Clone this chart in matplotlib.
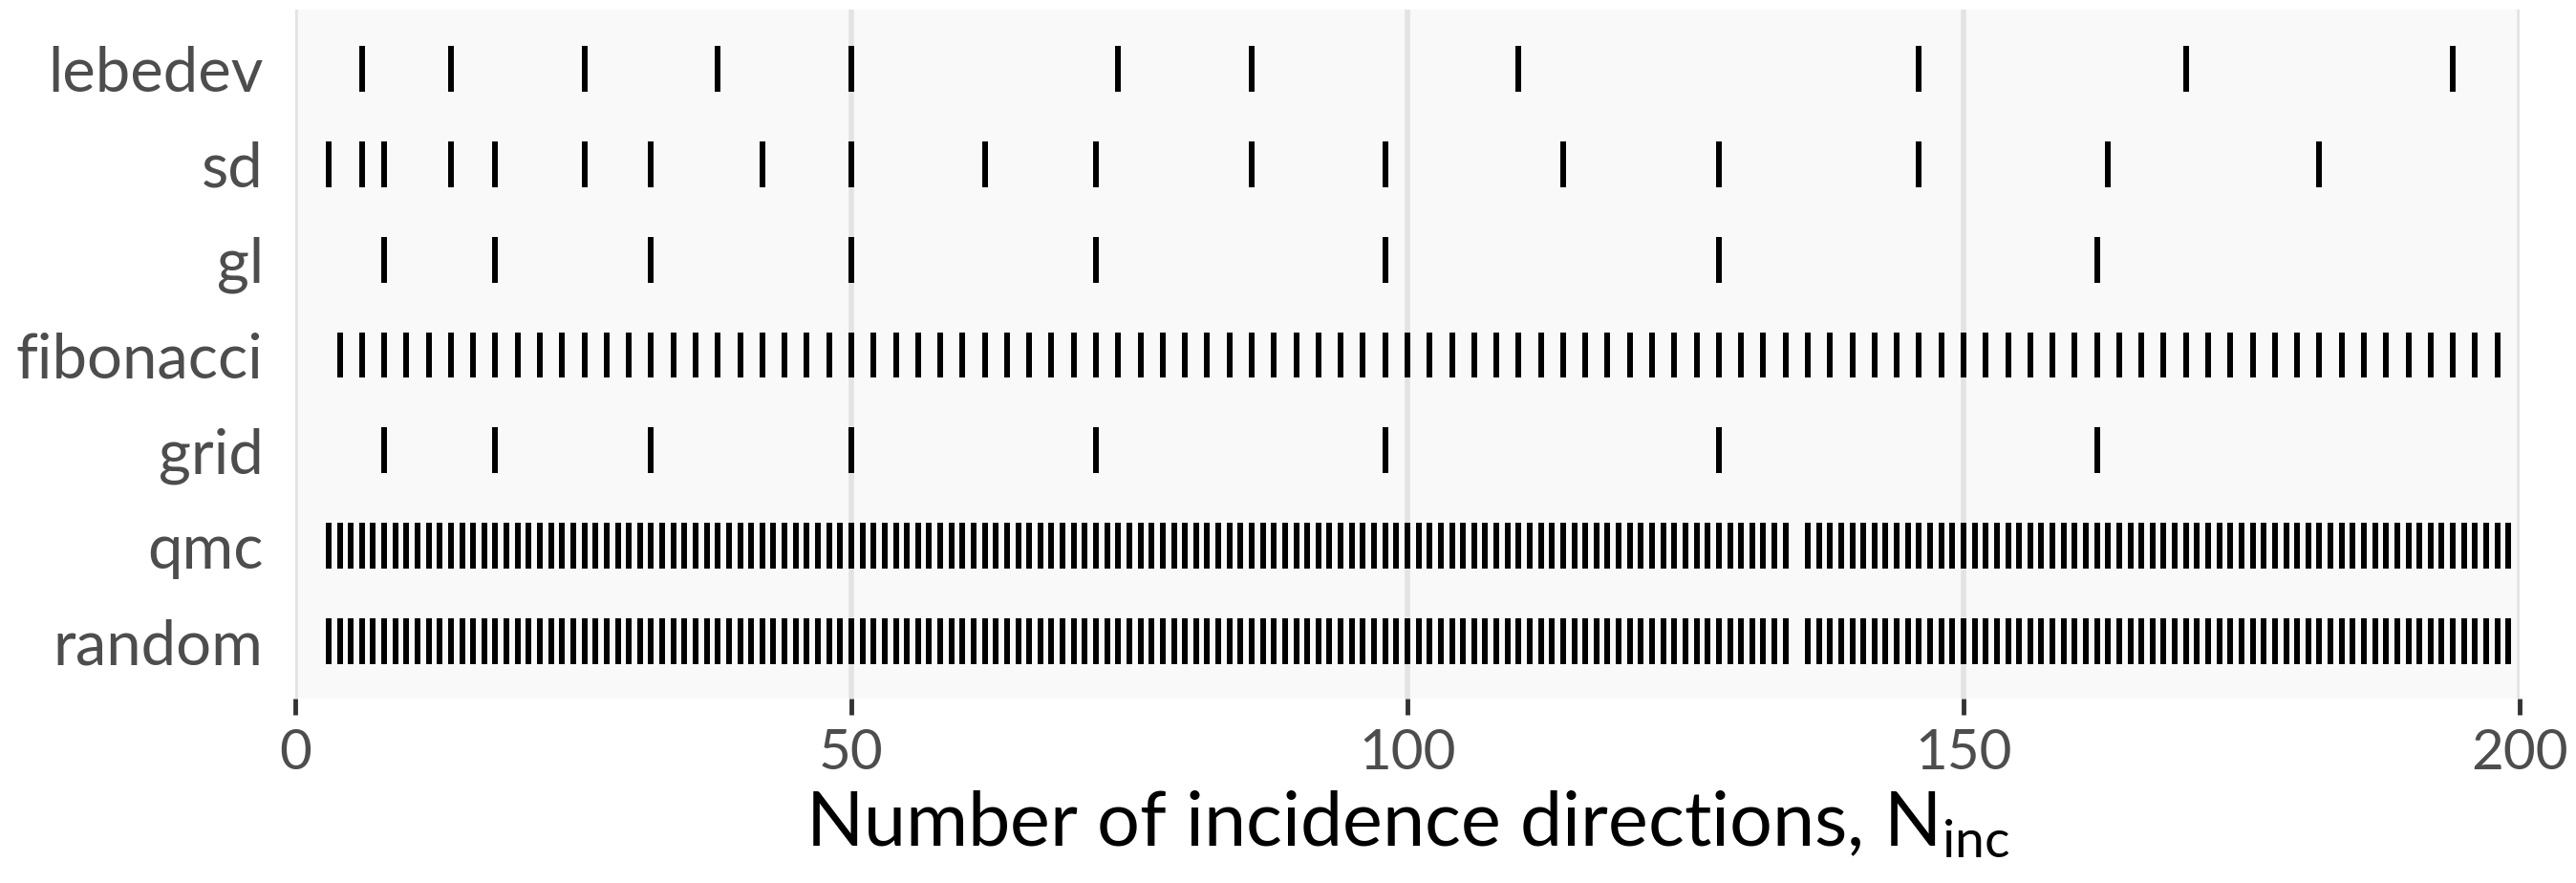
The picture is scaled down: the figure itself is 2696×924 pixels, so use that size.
import numpy as np
import matplotlib
matplotlib.use("Agg")
import matplotlib.pyplot as plt

plt.rcParams["font.family"] = ["Lato", "DejaVu Sans"]
plt.rcParams["mathtext.fontset"] = "custom"
plt.rcParams["mathtext.rm"] = "Lato"
plt.rcParams["mathtext.it"] = "Lato:italic"

# Quadrature schemes and the number of incidence directions each provides
schemes = ["lebedev", "sd", "gl", "fibonacci", "grid", "qmc", "random"]

lebedev = [6, 14, 26, 38, 50, 74, 86, 110, 146, 170, 194]
sd = [3, 6, 8, 14, 18, 26, 32, 42, 50, 62, 72, 86, 98, 114, 128, 146, 163, 182]
gl = [8, 18, 32, 50, 72, 98, 128, 162]
fibonacci = list(range(4, 199, 2))
grid = [8, 18, 32, 50, 72, 98, 128, 162]
qmc = [n for n in range(3, 200) if n != 135]
random_n = [n for n in range(3, 200) if n != 135]

series = [lebedev, sd, gl, fibonacci, grid, qmc, random_n]
x_ticks = [0, 50, 100, 150, 200]

fig = plt.figure(figsize=(26.96, 9.24), dpi=100)
ax = fig.add_axes([0.1146, 0.2089, 0.8635, 0.7803])
ax.set_facecolor("#f9f9f9")

ax.eventplot(series, orientation="horizontal", lineoffsets=np.arange(len(schemes)),
             linelengths=0.48, linewidths=4.3, colors="black")

ax.set_xlim(0, 200)
ax.set_ylim(len(schemes) - 0.4, -0.62)
ax.set_xticks(x_ticks)
ax.set_yticks(np.arange(len(schemes)))
ax.set_yticklabels(schemes)

ax.grid(axis="x", color="#e3e3e3", linewidth=4.0)
ax.grid(axis="y", visible=False)
ax.set_axisbelow(True)
for s in ax.spines.values():
    s.set_visible(False)

ax.tick_params(axis="x", length=12, width=3.5, color="#333333", labelsize=42,
               labelcolor="#4d4d4d", pad=10)
ax.tick_params(axis="y", length=0, labelsize=47, labelcolor="#4d4d4d", pad=24)

ax.set_xlabel(r"Number of incidence directions, $\mathrm{N}_{\mathrm{inc}}$",
              fontsize=57, color="black", labelpad=8)

fig.savefig("out.png", dpi=100)
